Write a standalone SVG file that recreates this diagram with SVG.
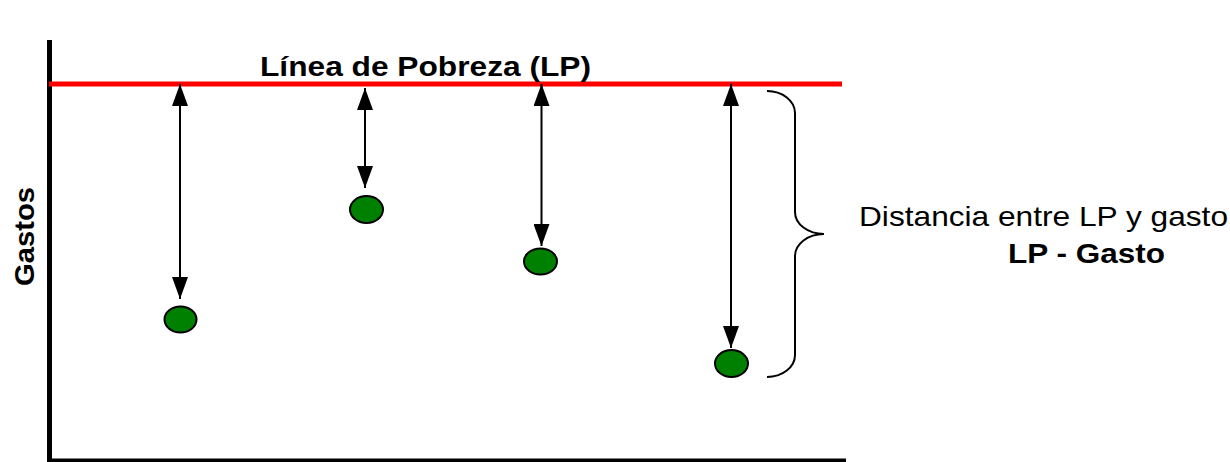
<svg xmlns="http://www.w3.org/2000/svg" width="1230" height="462" viewBox="0 0 1230 462">
  <style>
    .lbl { font-family: "Liberation Sans", Arial, sans-serif; font-size: 28px; fill: #000; }
    .b { font-weight: bold; }
    .arrow { stroke: #000; stroke-width: 2; fill: none; marker-start: url(#ah); marker-end: url(#ah); }
    .dot { fill: #008000; stroke: #000; stroke-width: 2; }
    .axis { stroke: #000; fill: none; }
  </style>
  <defs>
    <marker id="ah" viewBox="0 0 22 16" refX="22" refY="8" markerWidth="22" markerHeight="16" markerUnits="userSpaceOnUse" orient="auto-start-reverse">
      <path d="M0,0 L22,8 L0,16 Z" fill="#000"/>
    </marker>
  </defs>
  <rect width="1230" height="462" fill="#fff"/>
  <g id="axes">
    <line class="axis" x1="49.5" y1="40" x2="49.5" y2="462" stroke-width="5"/>
    <line class="axis" x1="47" y1="460.5" x2="846" y2="460.5" stroke-width="4"/>
    <text class="lbl b" transform="translate(34,286) rotate(-90)" textLength="99" lengthAdjust="spacingAndGlyphs">Gastos</text>
  </g>
  <g id="poverty-line">
    <line x1="49" y1="84" x2="842" y2="84" stroke="#ff0000" stroke-width="5"/>
    <text class="lbl b" x="260" y="76" textLength="331" lengthAdjust="spacingAndGlyphs">Línea de Pobreza (LP)</text>
  </g>
  <g id="connectors">
    <line class="arrow" x1="180" y1="84" x2="180" y2="299"/>
    <line class="arrow" x1="365" y1="88" x2="365" y2="188"/>
    <line class="arrow" x1="541.5" y1="84" x2="541.5" y2="246"/>
    <line class="arrow" x1="731" y1="84" x2="731" y2="348"/>
  </g>
  <g id="dot1"><ellipse class="dot" cx="180.5" cy="319.5" rx="16" ry="13"/></g>
  <g id="dot2"><ellipse class="dot" cx="366.5" cy="209.5" rx="16.5" ry="13.5"/></g>
  <g id="dot3"><ellipse class="dot" cx="540.5" cy="261.5" rx="16.5" ry="13"/></g>
  <g id="dot4"><ellipse class="dot" cx="731.5" cy="363.5" rx="16.5" ry="13.5"/></g>
  <g id="brace">
    <path d="M767,91 A28,22 0 0 1 795,113 L795,212 A29,22 0 0 0 824,234 A29,22 0 0 0 795,256 L795,355 A28,22 0 0 1 767,377" fill="none" stroke="#000" stroke-width="2"/>
  </g>
  <g id="annotation">
    <text class="lbl" x="859" y="226" textLength="369" lengthAdjust="spacingAndGlyphs">Distancia entre LP y gasto</text>
    <text class="lbl b" x="1008" y="263" textLength="157" lengthAdjust="spacingAndGlyphs">LP - Gasto</text>
  </g>
</svg>
